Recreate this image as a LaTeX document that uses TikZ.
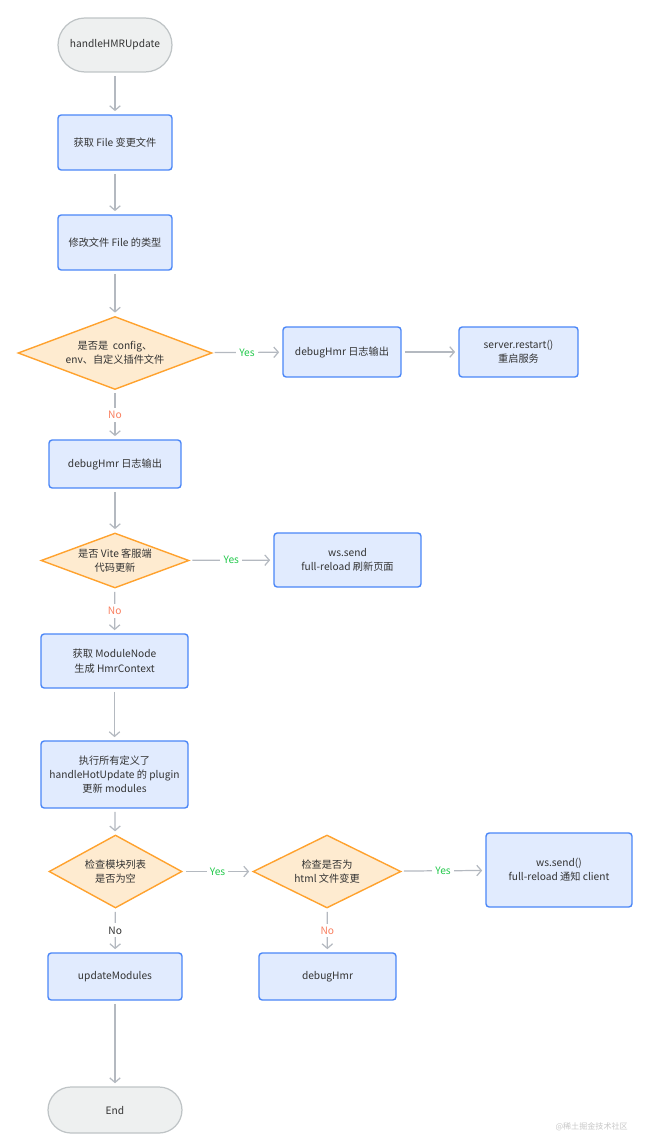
\documentclass[tikz,border=0pt]{standalone}
\usepackage{fontspec}
\setmainfont{Noto Sans CJK SC}
\usetikzlibrary{shapes.geometric,arrows.meta}

\definecolor{boxfill}{HTML}{E1EBFE}
\definecolor{boxline}{HTML}{4A86F7}
\definecolor{decfill}{HTML}{FEEBD0}
\definecolor{decline}{HTML}{FFA22E}
\definecolor{termfill}{HTML}{EEF0F0}
\definecolor{termline}{HTML}{BFC4C6}
\definecolor{linkgray}{HTML}{B4B9C0}
\definecolor{textgray}{HTML}{333333}
\definecolor{yesgreen}{HTML}{22C94B}
\definecolor{nored}{HTML}{FA7F5F}

\tikzset{
  proc/.style={draw=boxline, fill=boxfill, line width=0.8pt, rounded corners=1.8pt, inner sep=0pt},
  decision/.style={diamond, draw=decline, fill=decfill, line width=0.8pt, inner sep=0pt},
  terminal/.style={draw=termline, fill=termfill, line width=0.7pt, inner sep=0pt},
  link/.style={draw=linkgray, line width=0.7pt, -{Straight Barb[length=2.6pt,width=6pt]},
    shorten <=1.8pt, shorten >=1.8pt},
  yes/.style={fill=white, text=yesgreen, inner sep=1.8pt},
  no/.style={fill=white, text=nored, inner sep=1.8pt},
  nogray/.style={fill=white, text=textgray, inner sep=1.8pt}
}

\begin{document}
\begin{tikzpicture}[x=0.02cm, y=-0.02cm,
    every node/.style={font=\fontsize{5.8}{8.2}\selectfont, text=textgray, align=center}]
    \useasboundingbox (0,0) rectangle (650,1138);

    \node[terminal, minimum width=2.28cm, minimum height=1.08cm, rounded corners=0.54cm] (start) at (115,45) {handleHMRUpdate};
    \node[proc, minimum width=2.28cm, minimum height=1.1cm] (getfile) at (115,142.5) {获取 File 变更文件};
    \node[proc, minimum width=2.28cm, minimum height=1.1cm] (filekind) at (115,242.5) {修改文件 File 的类型};
    \node[decision, aspect=2.6, minimum width=3.88cm, minimum height=1.46cm] (isconf) at (115,353) {是否是 \ config、\\env、自定义插件文件};
    \node[proc, minimum width=2.36cm, minimum height=1.0cm] (dbga) at (342,352) {debugHmr 日志输出};
    \node[proc, minimum width=2.38cm, minimum height=1.0cm] (restart) at (518.5,352) {server.restart()\\重启服务};
    \node[proc, minimum width=2.64cm, minimum height=0.96cm] (dbgb) at (115,464) {debugHmr 日志输出};
    \node[decision, aspect=2.7, minimum width=2.96cm, minimum height=1.1cm] (isvite) at (115,560.5) {是否 Vite 客服端\\代码更新};
    \node[proc, minimum width=2.94cm, minimum height=1.08cm] (reload) at (347.5,560) {ws.send\\full-reload 刷新页面};
    \node[proc, minimum width=2.94cm, minimum height=1.08cm] (modnode) at (114.5,661) {获取 ModuleNode\\生成 HmrContext};
    \node[proc, minimum width=2.94cm, minimum height=1.34cm] (hotupd) at (114.5,774.5) {执行所有定义了\\handleHotUpdate 的 plugin\\更新 modules};
    \node[decision, aspect=1.8, minimum width=2.66cm, minimum height=1.46cm] (isempty) at (115.5,871.5) {检查模块列表\\是否为空};
    \node[decision, aspect=2.0, minimum width=2.96cm, minimum height=1.46cm] (ishtml) at (327,871.5) {检查是否为\\html 文件变更};
    \node[proc, minimum width=2.92cm, minimum height=1.48cm] (notify) at (559,870) {ws.send()\\full-reload 通知 client};
    \node[proc, minimum width=2.68cm, minimum height=0.94cm] (updmods) at (115,976.5) {updateModules};
    \node[proc, minimum width=2.74cm, minimum height=0.94cm] (dbgc) at (327.5,976.5) {debugHmr};
    \node[terminal, minimum width=2.68cm, minimum height=0.92cm, rounded corners=0.46cm] (finish) at (115,1110) {End};
    \node[text=black!22, font=\fontsize{4.6}{6}\selectfont, anchor=east] (mark) at (634,1127) {@稀土掘金技术社区};

    \draw[link] (start) -- (getfile);
    \draw[link] (getfile) -- (filekind);
    \draw[link] (filekind) -- (isconf);
    \draw[link] (isconf) -- node[yes] {Yes} (dbga);
    \draw[link] (dbga) -- (restart);
    \draw[link] (isconf) -- node[no] {No} (dbgb);
    \draw[link] (dbgb) -- (isvite);
    \draw[link] (isvite) -- node[yes] {Yes} (reload);
    \draw[link] (isvite) -- node[no] {No} (modnode);
    \draw[link] (modnode) -- (hotupd);
    \draw[link] (hotupd) -- (isempty);
    \draw[link] (isempty) -- node[yes] {Yes} (ishtml);
    \draw[link] (ishtml) -- node[yes] {Yes} (notify);
    \draw[link] (isempty) -- node[nogray] {No} (updmods);
    \draw[link] (ishtml) -- node[no] {No} (dbgc);
    \draw[link] (updmods) -- (finish);
\end{tikzpicture}
\end{document}
